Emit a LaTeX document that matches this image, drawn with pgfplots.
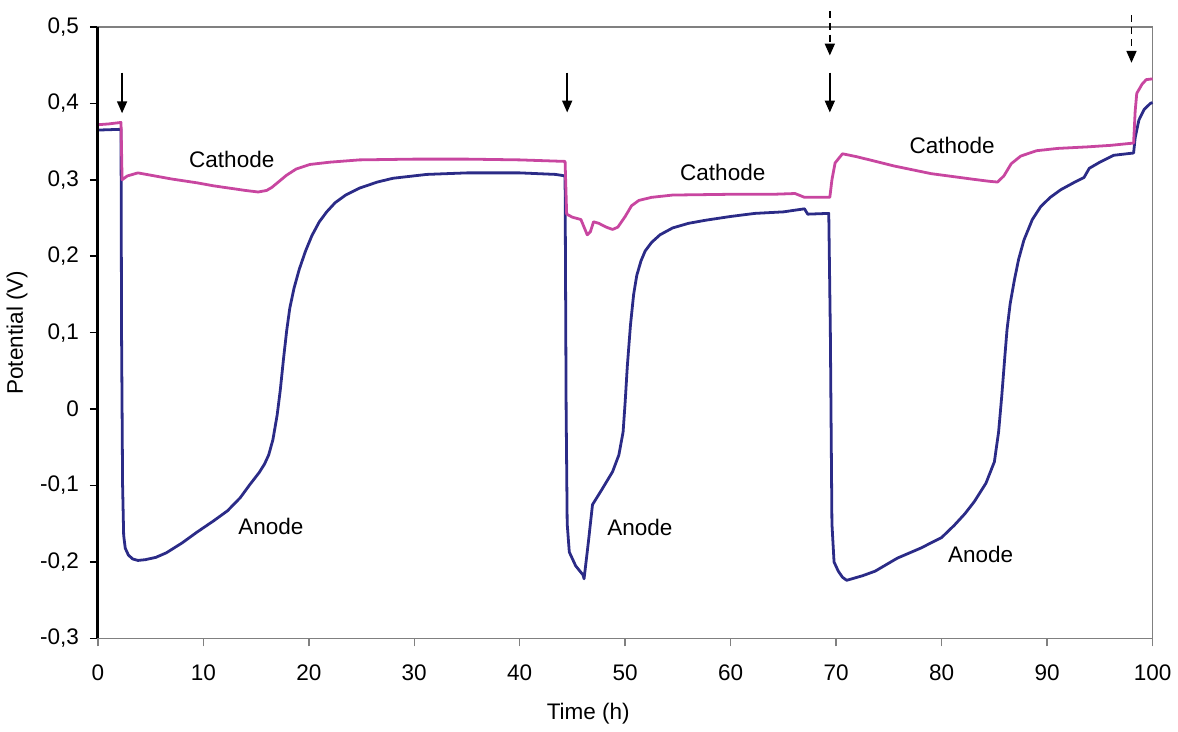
\documentclass[border=0pt]{standalone}
\usepackage{fontspec}
\setmainfont{Liberation Sans}
\usepackage{pgfplots}
\pgfplotsset{compat=1.18}
\usetikzlibrary{arrows.meta}

\definecolor{anode}{RGB}{43,43,135}
\definecolor{cathode}{RGB}{200,70,160}
\definecolor{frame}{RGB}{128,128,128}

\begin{document}
\begin{tikzpicture}
\begin{axis}[
    name=ax,
    scale only axis,
    width=529.5pt,
    height=307pt,
    xmin=0, xmax=100,
    ymin=-0.3, ymax=0.5,
    xtick={0,10,...,100},
    ytick={-0.3,-0.2,-0.1,0,0.1,0.2,0.3,0.4,0.5},
    xtick pos=lower,
    ytick pos=left,
    tick align=outside,
    major tick length=4pt,
    x tick style={frame, line width=0.75pt},
    y tick style={black, line width=0.75pt},
    axis line style={frame, line width=0.75pt},
    font=\fontsize{11.3}{13}\selectfont,
    /pgf/number format/assume math mode=true,
    /pgf/number format/use comma,
    /pgf/number format/fixed,
    /pgf/number format/precision=1,
    xticklabel shift=5.5pt,
    yticklabel shift=2pt,
    xlabel={Time (h)},
    ylabel={Potential (V)},
    xlabel style={at={(axis description cs:0.465,-0.1238)}, anchor=center},
    ylabel style={at={(axis description cs:-0.0765,0.5)}, anchor=center},
    clip=false,
]

% anode
\addplot[anode, line width=1.4pt, line join=round] coordinates {
(0,0.365)(2.2,0.366)(2.25,0.10)(2.35,-0.10)(2.45,-0.165)(2.6,-0.182)(2.9,-0.191)
(3.3,-0.196)(3.8,-0.198)(4.5,-0.197)(5.5,-0.194)(6.5,-0.188)(8,-0.175)(9.4,-0.161)
(11,-0.146)(12.3,-0.133)(13.5,-0.116)(14.4,-0.099)(15.3,-0.083)(15.8,-0.072)
(16.2,-0.060)(16.6,-0.040)(17.0,-0.008)(17.3,0.025)(17.6,0.065)(17.9,0.102)
(18.2,0.132)(18.6,0.158)(19.1,0.183)(19.7,0.207)(20.3,0.227)(21.0,0.245)
(21.7,0.258)(22.5,0.270)(23.5,0.280)(24.8,0.289)(26.5,0.297)(28,0.302)(31.2,0.307)
(35,0.309)(40,0.309)(43.4,0.307)(44.3,0.305)(44.4,0.0)(44.5,-0.15)(44.7,-0.187)
(45.3,-0.205)(46.0,-0.217)(46.1,-0.222)(46.5,-0.175)(46.9,-0.125)(47.8,-0.105)
(48.8,-0.082)(49.4,-0.06)(49.8,-0.03)(50.0,0.01)(50.2,0.056)(50.5,0.11)(50.8,0.15)
(51.1,0.175)(51.5,0.194)(51.9,0.207)(52.5,0.218)(53.3,0.228)(54.5,0.237)
(56,0.243)(57.6,0.247)(60,0.252)(62.3,0.256)(65,0.258)(67,0.262)(67.3,0.255)
(69.3,0.256)(69.45,0.10)(69.6,-0.15)(69.8,-0.20)(70.2,-0.212)(70.6,-0.220)
(71.0,-0.224)(72.5,-0.218)(73.7,-0.212)(75.8,-0.195)(78,-0.182)(80,-0.168)
(81.2,-0.152)(82.2,-0.137)(83.1,-0.121)(84.2,-0.097)(85.0,-0.069)(85.4,-0.03)
(85.7,0.017)(86.0,0.07)(86.2,0.104)(86.5,0.138)(86.9,0.169)(87.3,0.196)
(87.8,0.221)(88.6,0.248)(89.4,0.265)(90.3,0.277)(91.3,0.287)(92.5,0.296)
(93.5,0.303)(94.0,0.315)(95,0.323)(96.3,0.332)(98.2,0.335)(98.35,0.355)
(98.7,0.378)(99.2,0.392)(99.8,0.40)(100,0.401)
};

% cathode
\addplot[cathode, line width=1.4pt, line join=round] coordinates {
(0,0.372)(1,0.373)(2.2,0.375)(2.3,0.30)(2.8,0.305)(3.8,0.309)(5,0.306)(7,0.301)
(9.4,0.296)(11,0.292)(12.5,0.289)(14,0.286)(15.2,0.284)(16,0.286)(16.5,0.29)
(17.2,0.298)(17.9,0.306)(18.8,0.314)(20.1,0.320)(22,0.323)(24.8,0.326)(30,0.327)
(35,0.327)(40,0.326)(44.3,0.324)(44.45,0.255)(45,0.251)(45.8,0.248)(46.1,0.238)
(46.4,0.228)(46.7,0.232)(47.0,0.245)(47.5,0.243)(48.2,0.238)(48.8,0.235)
(49.3,0.238)(50.0,0.252)(50.6,0.266)(51.3,0.273)(52.5,0.277)(54.5,0.280)(60,0.281)
(64,0.281)(66.1,0.282)(67,0.277)(69.4,0.277)(69.6,0.30)(69.9,0.322)(70.6,0.334)
(72,0.330)(75.5,0.318)(79,0.308)(82.8,0.301)(84.5,0.298)(85.3,0.297)(85.9,0.305)
(86.6,0.321)(87.5,0.331)(89,0.338)(91,0.341)(93.8,0.343)(96,0.345)(98.2,0.348)
(98.35,0.39)(98.5,0.413)(99,0.425)(99.4,0.431)(100,0.432)
};

% left spine in black
\draw[black, line width=1.5pt] (rel axis cs:0,0) -- (rel axis cs:0,1);

% arrows marking the events
\draw[-{Triangle[length=6pt,width=5pt]}, line width=0.9pt] (axis cs:2.3,0.440) -- (axis cs:2.3,0.387);
\draw[-{Triangle[length=6pt,width=5pt]}, line width=0.9pt] (axis cs:44.5,0.440) -- (axis cs:44.5,0.388);
\draw[-{Triangle[length=6pt,width=5pt]}, line width=0.9pt] (axis cs:69.4,0.440) -- (axis cs:69.4,0.388);
\draw[-{Triangle[length=6pt,width=5pt]}, line width=0.9pt, dash pattern=on 3.5pt off 2.5pt] (axis cs:69.4,0.521) -- (axis cs:69.4,0.4625);
\draw[-{Triangle[length=6pt,width=5pt]}, line width=0.9pt, dash pattern=on 3.5pt off 2.5pt] (axis cs:98.0,0.515) -- (axis cs:98.0,0.453);

% curve labels
\node at (axis cs:12.7,0.326) {Cathode};
\node at (axis cs:59.25,0.310) {Cathode};
\node at (axis cs:81.0,0.345) {Cathode};
\node at (axis cs:16.4,-0.154) {Anode};
\node at (axis cs:51.4,-0.155) {Anode};
\node at (axis cs:83.7,-0.190) {Anode};

\end{axis}
% white margin above, as in the reference
\path ([yshift=13.5pt]ax.north west);
\end{tikzpicture}
\end{document}
